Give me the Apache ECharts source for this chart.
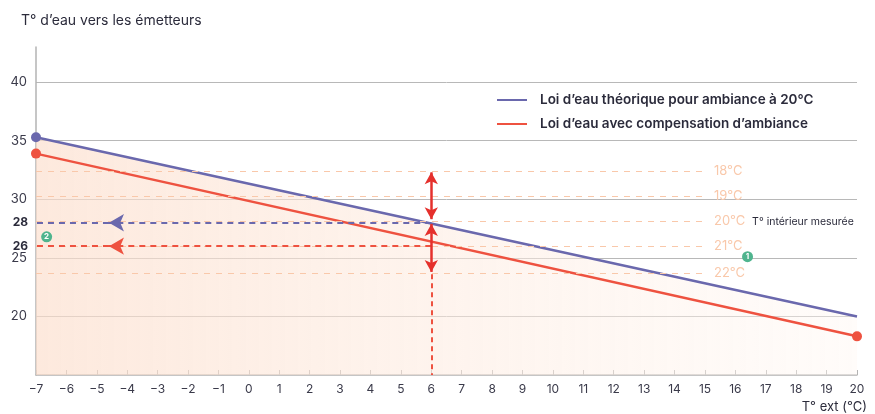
<!DOCTYPE html>
<html>
<head>
<meta charset="utf-8">
<script src="https://cdn.jsdelivr.net/npm/echarts@6/dist/echarts.min.js"></script>
<style>
  html, body { margin: 0; background: #fff; }
  #chart { width: 875px; height: 414px; }
</style>
</head>
<body>
<div id="chart"></div>
<script>
// donnees de la loi d'eau
var loiTheorique = [[-7, 35.3], [20, 20]];
var loiCompensee = [[-7, 33.9], [20, 18.3]];
var ambianceNoms = ['18°C', '19°C', '20°C', '21°C', '22°C'];
var ambianceNiveaux = [32.4, 30.3, 28.1, 26.0, 23.7];
var tExt = 6;
var eauTheo = 28;
var eauComp = 26;
var badges = [[16.4, 25.1, '1'], [-6.65, 26.8, '2']];

var bleu = '#6a68ad';
var rouge = '#ee5240';
var peche = '#f9c8aa';
var texte = '#2b2b3b';

var myChart = echarts.init(document.getElementById('chart'));

// lignes d'ambiance en pointilles
var ambianceLines = ambianceNoms.map(function (nom, i) {
  var lbl = nom === '20°C' ? '{a|' + nom + '}  {b|T° intérieur mesurée}' : '{a|' + nom + '}';
  return [
    {
      coord: [-7, ambianceNiveaux[i]], symbol: 'none',
      lineStyle: { color: peche, type: [6, 6], width: 1 },
      label: {
        show: true, position: 'end', distance: 9, formatter: lbl,
        rich: {
          a: { color: peche, fontSize: 13, fontFamily: 'Inter' },
          b: { color: texte, fontSize: 10.5, fontFamily: 'Inter' }
        }
      }
    },
    { coord: [15, ambianceNiveaux[i]], symbol: 'none' }
  ];
});

function fleche(y, couleur, txt) {
  return [
    [
      { coord: [tExt, y], symbol: 'none', lineStyle: { color: couleur, type: [6, 5], width: 2 }, label: { show: false } },
      { coord: [-4.6, y], symbol: 'arrow', symbolSize: [13, 15] }
    ],
    [
      {
        coord: [-4.6, y], symbol: 'none', lineStyle: { color: couleur, type: [6, 5], width: 2 },
        label: { show: true, position: 'end', distance: 8, formatter: txt, color: texte, fontWeight: 'bold', fontSize: 12, fontFamily: 'Inter' }
      },
      { coord: [-7, y], symbol: 'none' }
    ]
  ];
}

var markData = ambianceLines
  .concat(fleche(eauTheo, bleu, String(eauTheo)))
  .concat(fleche(eauComp, rouge, String(eauComp)))
  .concat([
    [
      { coord: [tExt, 28.3], symbol: 'arrow', symbolSize: [10, 12], lineStyle: { color: '#e5302c', type: 'solid', width: 2.5 }, label: { show: false } },
      { coord: [tExt, 32.3], symbol: 'arrow', symbolSize: [10, 12] }
    ],
    [
      { coord: [tExt, 27.9], symbol: 'arrow', symbolSize: [10, 12], lineStyle: { color: '#e5302c', type: 'solid', width: 2.5 }, label: { show: false } },
      { coord: [tExt, 23.8], symbol: 'arrow', symbolSize: [10, 12] }
    ],
    [
      { coord: [tExt, 23.6], symbol: 'none', lineStyle: { color: rouge, type: [5, 4], width: 2 }, label: { show: false } },
      { coord: [tExt, 15], symbol: 'none' }
    ]
  ]);

function pointsAvecSymbole(data, montrer) {
  return data.map(function (p, i) {
    return { value: p, symbol: montrer[i] ? 'circle' : 'none', symbolSize: 10 };
  });
}

var option = {
  animation: false,
  textStyle: { fontFamily: 'Inter' },
  title: [
    { text: 'T° d’eau vers les émetteurs', left: 16, top: 9, textStyle: { fontSize: 14, fontWeight: 'normal', color: texte, fontFamily: 'Inter' } },
    { text: 'T° ext (°C)', right: 3, top: 396, textStyle: { fontSize: 13, fontWeight: 'normal', color: texte, fontFamily: 'Inter' } }
  ],
  legend: {
    orient: 'vertical',
    left: 492,
    top: 88,
    itemWidth: 30,
    itemHeight: 2,
    itemGap: 10,
    icon: 'rect',
    textStyle: { color: texte, fontSize: 13.5, fontWeight: 600, fontFamily: 'Inter', padding: [0, 0, 0, 8] },
    data: ['Loi d’eau théorique pour ambiance à 20°C', 'Loi d’eau avec compensation d’ambiance']
  },
  grid: { left: 36, right: 18, top: 47, bottom: 39 },
  xAxis: {
    type: 'value', min: -7, max: 20, interval: 1,
    axisLine: { onZero: false, lineStyle: { color: '#b3b3b3', width: 1.5 } },
    axisTick: { inside: true, length: 5, lineStyle: { color: '#b3b3b3' } },
    axisLabel: {
      color: '#3a3a4a', fontSize: 12, margin: 8,
      formatter: function (v) { return String(v).replace('-', '−'); }
    },
    splitLine: { show: false }
  },
  yAxis: {
    type: 'value', min: 15, max: 43, interval: 5,
    axisLine: { show: true, onZero: false, lineStyle: { color: '#b3b3b3', width: 1.5 } },
    axisTick: { show: false },
    axisLabel: {
      color: '#3a3a4a', fontSize: 13, margin: 9,
      formatter: function (v) { return (v % 5 === 0 && v >= 20) ? v : ''; }
    },
    splitLine: { show: true, showMinLine: false, showMaxLine: false, lineStyle: { color: '#b8b8b8', width: 1 } }
  },
  series: [
    {
      name: 'Loi d’eau théorique pour ambiance à 20°C',
      type: 'line',
      data: pointsAvecSymbole(loiTheorique, [true, false]),
      color: bleu,
      lineStyle: { width: 2.5 },
      itemStyle: { color: bleu },
      areaStyle: {
        origin: 'start',
        color: new echarts.graphic.LinearGradient(0, 0, 1, 0, [
          { offset: 0, color: 'rgba(252,222,204,0.95)' },
          { offset: 1, color: 'rgba(255,247,242,0.6)' }
        ])
      },
      z: 3,
      markLine: { silent: true, symbol: 'none', data: markData },
      markPoint: {
        symbol: 'circle', symbolSize: 11,
        itemStyle: { color: '#4fb48e' },
        label: { show: true, color: '#fff', fontSize: 8, fontWeight: 'bold', formatter: '{c}' },
        data: badges.map(function (b) { return { coord: [b[0], b[1]], value: b[2] }; })
      }
    },
    {
      name: 'Loi d’eau avec compensation d’ambiance',
      type: 'line',
      data: pointsAvecSymbole(loiCompensee, [true, true]),
      color: rouge,
      lineStyle: { width: 2.5 },
      itemStyle: { color: rouge },
      z: 4
    }
  ]
};

myChart.setOption(option);
</script>
</body>
</html>
